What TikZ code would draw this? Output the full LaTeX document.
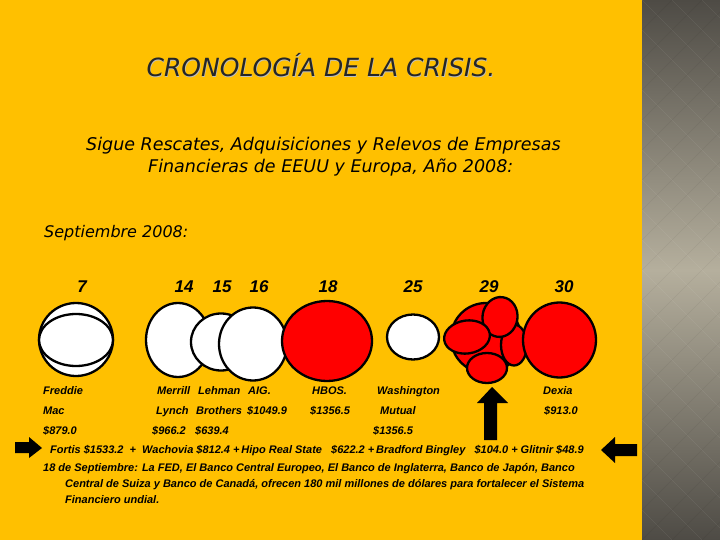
\documentclass[tikz,border=0pt]{standalone}
\usepackage{fontspec}
\setmainfont{DejaVu Sans}
\newfontfamily\labfont{Liberation Sans}
\begin{document}
\begin{tikzpicture}[x=1pt,y=-1pt,
  txt/.style={inner sep=0pt, anchor=base west, font=\labfont\bfseries\itshape\fontsize{11}{13}\selectfont},
  day/.style={inner sep=0pt, anchor=base, font=\labfont\bfseries\itshape\fontsize{17}{20}\selectfont},
  head/.style={inner sep=0pt, anchor=base west, font=\itshape\fontsize{17.5}{21}\selectfont},
  wc/.style={draw=black, line width=2.3pt, fill=white},
  rc/.style={draw=black, line width=2.3pt, fill=red},
  blk/.style={fill=black, draw=none}]
\definecolor{bgyellow}{HTML}{FFC000}
\definecolor{titlegray}{HTML}{262626}
\definecolor{pdark}{HTML}{4E4B45}
\definecolor{plight}{HTML}{B5AF9D}
% background
\fill[bgyellow] (0,0) rectangle (720,540);
\useasboundingbox (0,0) rectangle (720,540);
\shade[top color=pdark, bottom color=plight] (642,0) rectangle (720,270);
\shade[top color=plight, bottom color=pdark] (642,270) rectangle (720,540);
\begin{scope}
\clip (642,0) rectangle (720,540);
\foreach \k in {-20,...,20} {
  \draw[white, opacity=0.07, line width=0.6pt] (642+\k*30,0) -- ++(540,540);
  \draw[black, opacity=0.05, line width=0.6pt] (642+\k*30,0) -- ++(-540,540);
}
\end{scope}
% titles
\node[inner sep=0pt, anchor=base, text=black!25, font=\itshape\fontsize{25}{30}\selectfont] (titleshadow) at (321.6,77.6) {CRONOLOGÍA DE LA CRISIS.};
\node[inner sep=0pt, anchor=base, text=titlegray, font=\itshape\fontsize{25}{30}\selectfont] (title) at (321,77) {CRONOLOGÍA DE LA CRISIS.};
\node[head] (sub1) at (86,151) {Sigue Rescates, Adquisiciones y Relevos de Empresas};
\node[head] (sub2) at (148,173) {Financieras de EEUU y Europa, Año 2008:};
\node[head, font=\itshape\fontsize{16}{20}\selectfont] (sept) at (44,237) {Septiembre 2008:};
% days
\node[day] (d7) at (82,292) {7};
\node[day] (d14) at (184,292) {14};
\node[day] (d15) at (222,292) {15};
\node[day] (d16) at (259,292) {16};
\node[day] (d18) at (328,292) {18};
\node[day] (d25) at (413,292) {25};
\node[day] (d29) at (489,292) {29};
\node[day] (d30) at (564,292) {30};
% circles
\draw[wc] (76,339.5) ellipse [x radius=37, y radius=36.5];
\draw[wc] (76,340) ellipse [x radius=37, y radius=26];
\draw[wc] (178,340) ellipse [x radius=32, y radius=37];
\draw[wc] (221,342) ellipse [x radius=30, y radius=28.5];
\draw[wc] (253,344) ellipse [x radius=34, y radius=36.5];
\draw[rc] (327,341) ellipse [x radius=45, y radius=40];
\draw[wc] (413,337) ellipse [x radius=26, y radius=22.5];
% 29 cluster
\draw[rc] (486,338) circle [radius=35];
\draw[rc] (514,345) ellipse [x radius=13, y radius=20.5];
\draw[rc] (500,317) ellipse [x radius=17.5, y radius=20, rotate=-8];
\draw[rc] (467,337) ellipse [x radius=23, y radius=16.5, rotate=8];
\draw[rc] (487,368) ellipse [x radius=20, y radius=15];
\draw[rc] (559.5,340) ellipse [x radius=36.5, y radius=37.5];
% labels
\node[txt] (l1) at (43,394) {Freddie};
\node[txt] (l2) at (43,414) {Mac};
\node[txt] (l3) at (43,434) {\$879.0};
\node[txt] (l4) at (157,394) {Merrill};
\node[txt] (l5) at (156,414) {Lynch};
\node[txt] (l6) at (152,434) {\$966.2};
\node[txt] (l7) at (198,394) {Lehman};
\node[txt] (l8) at (196,414) {Brothers};
\node[txt] (l9) at (195,434) {\$639.4};
\node[txt] (l10) at (248,394) {AIG.};
\node[txt] (l11) at (247,414) {\$1049.9};
\node[txt] (l12) at (312,394) {HBOS.};
\node[txt] (l13) at (310,414) {\$1356.5};
\node[txt] (l14) at (377,394) {Washington};
\node[txt] (l15) at (380,414) {Mutual};
\node[txt] (l16) at (373,434) {\$1356.5};
\node[txt] (l17) at (543,394) {Dexia};
\node[txt] (l18) at (544,414) {\$913.0};
\node[txt] (l19) at (50,453) {Fortis \$1533.2\ \ +\ \ Wachovia \$812.4\ +\,Hipo Real State\ \ \ \$622.2\ +\,Bradford Bingley\ \ \ \$104.0\ + Glitnir \$48.9};
\node[txt] (l20) at (43,471) {18 de Septiembre: La FED, El Banco Central Europeo, El Banco de Inglaterra, Banco de Japón, Banco};
\node[txt] (l21) at (65,487) {Central de Suiza y Banco de Canadá, ofrecen 180 mil millones de dólares para fortalecer el Sistema};
\node[txt] (l22) at (65,503) {Financiero undial.};
% arrows
\fill[blk] (15,442) -- (29,442) -- (29,437) -- (42,448) -- (29,458) -- (29,453) -- (15,453) -- cycle;
\fill[blk] (492,387) -- (508,403) -- (497,403) -- (497,440) -- (484,440) -- (484,403) -- (477,403) -- cycle;
\fill[blk] (601,450) -- (615,437) -- (615,444) -- (637,444) -- (637,456) -- (615,456) -- (615,463) -- cycle;
\end{tikzpicture}
\end{document}
